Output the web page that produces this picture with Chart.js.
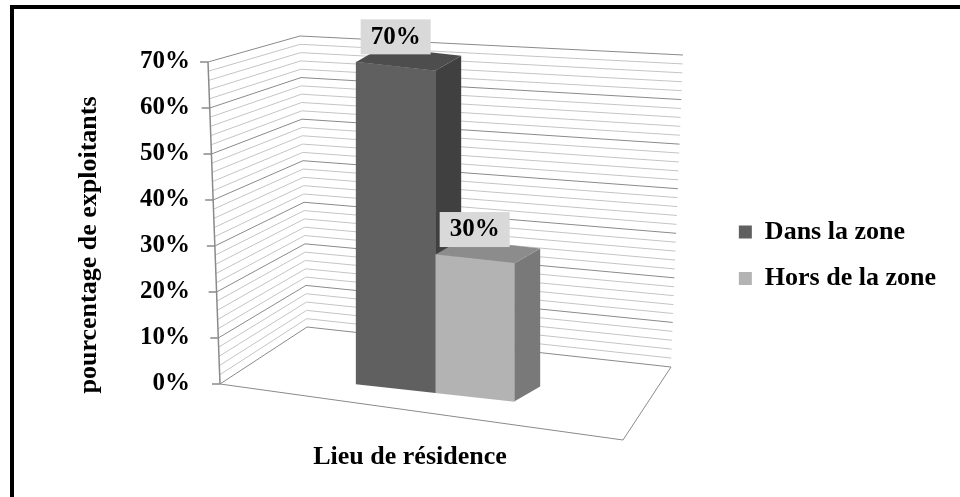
<!DOCTYPE html>
<html>
<head>
<meta charset="utf-8">
<script src="https://cdn.jsdelivr.net/npm/chart.js@4.4.1/dist/chart.umd.min.js"></script>
<style>
  html, body { margin: 0; padding: 0; background: #fff; overflow: hidden; }
  #wrap { position: relative; width: 960px; height: 497px; }
  #frame { position: absolute; left: 10px; top: 5px; right: 0; bottom: 0; border-top: 4px solid #000; border-left: 4px solid #000; }
  #chart { position: absolute; left: 0; top: 0; }
</style>
</head>
<body>
<div id="wrap"><div id="frame"></div><canvas id="chart"></canvas></div>
<script>
// chart data
const categories = ['Lieu de résidence'];
const seriesNames = ['Dans la zone', 'Hors de la zone'];
const dansLaZone = [70];
const horsDeLaZone = [30];
const yMax = 70;
const yStep = 10;
const yMinorStep = 2;
const yTitle = 'pourcentage de exploitants';
const xTitle = 'Lieu de résidence';

// colours of the 3D boxes: front, side, top
const faces = [
    { front: '#606060', side: '#404040', top: '#4d4d4d' },
    { front: '#b3b3b3', side: '#797979', top: '#8c8c8c' }
];

const FONT = '"Liberation Serif", "Times New Roman", serif';
const SHEAR = 0.11;
const DEPTH_X = 26;
const DEPTH_Y = -15 - SHEAR * DEPTH_X;

Chart.defaults.font.family = FONT;
Chart.defaults.color = '#000';

// corners of the walls, relative to the plot area
function wallGeometry(chart) {
    const y = chart.scales.y;
    const L = chart.chartArea.left;
    const B = y.getPixelForValue(0);
    const T = y.getPixelForValue(yMax);
    return {
        y, B, T,
        FL: { b: [L + 12, B], t: [L, T] },
        BL: { b: [L + 99, B - 57], t: [L + 92, T - 26] },
        BR: { b: [L + 463, B - 17], t: [L + 475, T - 7] },
        FR: [L + 415, B + 56]
    };
}

function at(g, col, v) {
    const f = (g.B - g.y.getPixelForValue(v)) / (g.B - g.T);
    return [col.b[0] + (col.t[0] - col.b[0]) * f, col.b[1] + (col.t[1] - col.b[1]) * f];
}

function polyline(ctx, pts) {
    ctx.beginPath();
    ctx.moveTo(pts[0][0], pts[0][1]);
    for (let i = 1; i < pts.length; i++) ctx.lineTo(pts[i][0], pts[i][1]);
}

const box3d = {
    id: 'box3d',
    beforeDatasetsDraw(chart) {
        const ctx = chart.ctx;
        const g = wallGeometry(chart);

        // walls: minor lines first, then the 10% lines
        ctx.save();
        ctx.lineWidth = 1;
        [false, true].forEach(major => {
            ctx.strokeStyle = major ? '#8a8a8a' : '#c4c4c4';
            for (let v = 0; v <= yMax; v += yMinorStep) {
                if ((v % yStep === 0) !== major) continue;
                polyline(ctx, [at(g, g.FL, v), at(g, g.BL, v), at(g, g.BR, v)]);
                ctx.stroke();
            }
        });

        // floor
        const f0 = at(g, g.FL, 0);
        ctx.strokeStyle = '#8a8a8a';
        polyline(ctx, [f0, g.FR, at(g, g.BR, 0)]);
        ctx.stroke();

        // value axis edge and tick marks
        ctx.lineWidth = 1.5;
        polyline(ctx, [f0, at(g, g.FL, yMax)]);
        ctx.stroke();
        for (let v = 0; v <= yMax; v += yStep) {
            const p = at(g, g.FL, v);
            polyline(ctx, [[p[0] - 8, p[1]], p]);
            ctx.stroke();
        }
        ctx.restore();

        // sides and tops of the bars, then leave the shear on for the fronts
        const first = chart.getDatasetMeta(0).data[0];
        chart.$x0 = first.x - first.width / 2;
        ctx.save();
        ctx.transform(1, SHEAR, 0, 1, 0, -SHEAR * chart.$x0);
        chart.data.datasets.forEach((ds, i) => {
            chart.getDatasetMeta(i).data.forEach(el => {
                const xl = el.x - el.width / 2;
                const xr = el.x + el.width / 2;
                ctx.fillStyle = faces[i].side;
                polyline(ctx, [[xr, el.y], [xr + DEPTH_X, el.y + DEPTH_Y], [xr + DEPTH_X, el.base + DEPTH_Y], [xr, el.base]]);
                ctx.fill();
                ctx.fillStyle = faces[i].top;
                polyline(ctx, [[xl, el.y], [xl + DEPTH_X, el.y + DEPTH_Y], [xr + DEPTH_X, el.y + DEPTH_Y], [xr, el.y]]);
                ctx.fill();
            });
        });
    },
    afterDatasetsDraw(chart) {
        const ctx = chart.ctx;
        ctx.restore();

        // value labels in grey boxes
        ctx.save();
        ctx.font = 'bold 25px ' + FONT;
        ctx.textAlign = 'center';
        ctx.textBaseline = 'middle';
        chart.data.datasets.forEach((ds, i) => {
            chart.getDatasetMeta(i).data.forEach((el, j) => {
                const top = el.y + SHEAR * (el.x - chart.$x0);
                const cy = top - 30;
                ctx.fillStyle = '#d9d9d9';
                ctx.fillRect(el.x - 35, cy - 17, 70, 35);
                ctx.fillStyle = '#000';
                ctx.fillText(ds.data[j] + '%', el.x, cy + 1);
            });
        });
        ctx.restore();
    },
    afterDraw(chart) {
        const ctx = chart.ctx;
        ctx.save();
        ctx.font = 'bold 26px ' + FONT;
        ctx.fillStyle = '#000';
        ctx.textAlign = 'center';
        ctx.textBaseline = 'middle';
        ctx.fillText(xTitle, 410, 457);
        ctx.translate(89, 245);
        ctx.rotate(-Math.PI / 2);
        ctx.fillText(yTitle, 0, 0);
        ctx.restore();
    }
};

new Chart(document.getElementById('chart'), {
    type: 'bar',
    data: {
        labels: categories,
        datasets: [
            { label: seriesNames[0], data: dansLaZone, backgroundColor: faces[0].front, borderColor: faces[0].front },
            { label: seriesNames[1], data: horsDeLaZone, backgroundColor: faces[1].front, borderColor: faces[1].front }
        ]
    },
    options: {
        responsive: true,
        maintainAspectRatio: false,
        animation: false,
        events: [],
        datasets: {
            bar: { barThickness: 79, borderWidth: 0, clip: false }
        },
        layout: { padding: { left: 0, top: 62, right: 14, bottom: 113 } },
        scales: {
            x: { display: false },
            y: {
                min: 0,
                max: yMax,
                grid: { display: false, drawTicks: false },
                border: { display: false },
                ticks: {
                    stepSize: yStep,
                    padding: 18,
                    font: { size: 25, weight: 'bold' },
                    callback: v => v + '%'
                },
                afterFit: s => { s.width = 208; }
            },
            gap: {
                position: 'right',
                display: true,
                grid: { display: false, drawTicks: false },
                border: { display: false },
                ticks: { display: false },
                afterFit: s => { s.width = 56; }
            }
        },
        plugins: {
            tooltip: { enabled: false },
            legend: {
                position: 'right',
                maxWidth: 250,
                title: { display: true, text: '', font: { size: 12 }, padding: { top: 50, bottom: 0 } },
                labels: {
                    boxWidth: 13,
                    boxHeight: 13,
                    padding: 20.5,
                    font: { size: 26, weight: 'bold' }
                }
            }
        }
    },
    plugins: [box3d]
});
</script>
</body>
</html>
